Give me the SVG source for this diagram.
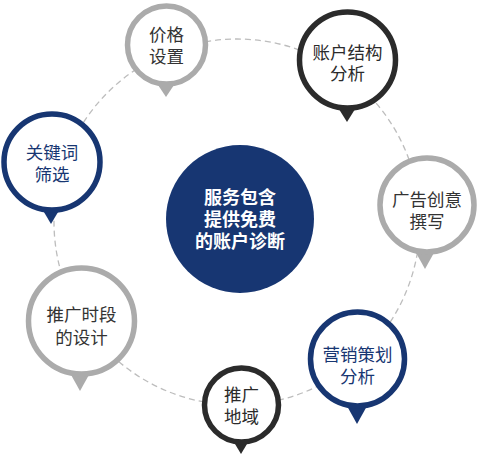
<svg xmlns="http://www.w3.org/2000/svg" width="480" height="464" viewBox="0 0 480 464">
<style>
text{font-family:"Liberation Sans","Noto Sans CJK SC",sans-serif;font-size:17.5px;text-anchor:middle}
.ring{fill:#fff;stroke-width:5.5}
.gray .ring{stroke:#ababab}.gray .tip{fill:#ababab}.gray text{fill:#333}
.dark .ring{stroke:#2b2b2b}.dark .tip{fill:#2b2b2b}.dark text{fill:#2b2b2b}
.navy .ring{stroke:#173672}.navy .tip{fill:#173672}.navy text{fill:#173672}
.hub text{fill:#fff;font-weight:bold;font-size:18px}
</style>
<rect width="480" height="464" fill="#fff"/>
<g id="connectors">
<circle cx="237" cy="222" r="183" fill="none" stroke="#bdbdbd" stroke-width="1.3" stroke-dasharray="6 4"/>
</g>
<g id="hub" class="hub">
<circle cx="240" cy="219" r="74" fill="#173672"/>
<text x="240" y="204">服务包含</text>
<text x="240" y="226">提供免费</text>
<text x="240" y="248">的账户诊断</text>
</g>
<g id="n-price" class="gray">
<path class="tip" d="M156,82 L166,97 L176,82 Z"/>
<circle class="ring" cx="166.5" cy="45" r="39"/>
<text x="166.5" y="41">价格</text>
<text x="166.5" y="63">设置</text>
</g>
<g id="n-account" class="dark">
<path class="tip" d="M337,106 L347,122 L357,106 Z"/>
<circle class="ring" cx="347.5" cy="60" r="48"/>
<text x="347.5" y="59">账户结构</text>
<text x="347.5" y="80">分析</text>
</g>
<g id="n-keyword" class="navy">
<path class="tip" d="M41,207 L51,224 L61,207 Z"/>
<circle class="ring" cx="52" cy="162" r="48"/>
<text x="52" y="159">关键词</text>
<text x="52" y="181">筛选</text>
</g>
<g id="n-creative" class="gray">
<path class="tip" d="M415,251 L425,269 L435,251 Z"/>
<circle class="ring" cx="427" cy="205" r="47"/>
<text x="427" y="206">广告创意</text>
<text x="427" y="228">撰写</text>
</g>
<g id="n-time" class="gray">
<path class="tip" d="M70,373 L80,391 L90,373 Z"/>
<circle class="ring" cx="81.5" cy="321" r="53"/>
<text x="81.5" y="321">推广时段</text>
<text x="81.5" y="344">的设计</text>
</g>
<g id="n-marketing" class="navy">
<path class="tip" d="M347,406 L357,424 L367,406 Z"/>
<circle class="ring" cx="357.5" cy="359" r="47"/>
<text x="357.5" y="361">营销策划</text>
<text x="357.5" y="383">分析</text>
</g>
<g id="n-region" class="dark">
<path class="tip" d="M232,439 L241,454 L250,439 Z"/>
<circle class="ring" cx="241.5" cy="405" r="37"/>
<text x="241.5" y="401">推广</text>
<text x="241.5" y="423">地域</text>
</g>
</svg>
